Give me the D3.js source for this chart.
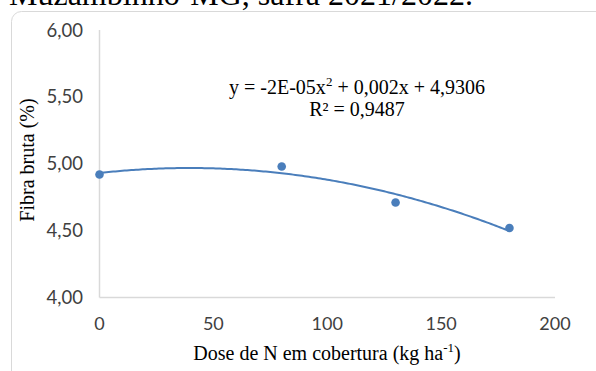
<!DOCTYPE html>
<html><head><meta charset="utf-8">
<script src="https://cdn.jsdelivr.net/npm/d3@7"></script>
<style>html,body{margin:0;padding:0;background:#fff;overflow:hidden}</style>
</head><body>
<script>
const doses = [0, 80, 130, 180];
const fibra = [4.92, 4.98, 4.71, 4.52];
const xTicks = [0, 50, 100, 150, 200];
const yTicks = [4.0, 4.5, 5.0, 5.5, 6.0];
const equationText = "y = -2E-05x";
const equationRest = " + 0,002x + 4,9306";
const r2Text = "R² = 0,9487";
const titleText = "Muzambinho-MG, safra 2021/2022.";
const yTitle = "Fibra bruta (%)";
const xTitle = "Dose de N em cobertura (kg ha";

const W = 596, H = 371;
const svg = d3.select("body").append("svg").attr("width", W).attr("height", H);

// partial caption at top
svg.append("text").attr("x", 9).attr("y", 5)
  .attr("font-family", "Liberation Serif").attr("font-size", 32).attr("fill", "#000")
  .text(titleText);

// chart frame
svg.append("rect").attr("x", 11.5).attr("y", 11.5).attr("width", 600).attr("height", 380)
  .attr("rx", 10).attr("fill", "none").attr("stroke", "#d9d9d9").attr("stroke-width", 1);

const x = d3.scaleLinear().domain([0, 200]).range([99.5, 555]);
const y = d3.scaleLinear().domain([4, 6]).range([297.5, 30]);

// axes lines
svg.append("line").attr("x1", x(0)).attr("x2", x(0)).attr("y1", y(6)).attr("y2", y(4))
  .attr("stroke", "#d9d9d9").attr("stroke-width", 1.5);
svg.append("line").attr("x1", x(0)).attr("x2", x(200)).attr("y1", y(4)).attr("y2", y(4))
  .attr("stroke", "#d9d9d9").attr("stroke-width", 1.5);

const fmt = v => d3.format(".2f")(v).replace(".", ",");
svg.append("g").selectAll("text").data(yTicks).join("text")
  .attr("x", 83).attr("y", d => y(d) + 6.5).attr("text-anchor", "end")
  .attr("font-family", "Lato").attr("font-size", 18.5).attr("fill", "#404040")
  .text(fmt);
svg.append("g").selectAll("text").data(xTicks).join("text")
  .attr("x", d => x(d)).attr("y", 330).attr("text-anchor", "middle")
  .attr("font-family", "Lato").attr("font-size", 18).attr("fill", "#404040")
  .text(d => d);

// axis titles
svg.append("text").attr("transform", "translate(34,160) rotate(-90)")
  .attr("text-anchor", "middle").attr("font-family", "Liberation Serif").attr("font-size", 20)
  .attr("fill", "#000").text(yTitle);
const xt = svg.append("text").attr("x", 327).attr("y", 360).attr("text-anchor", "middle")
  .attr("font-family", "Liberation Serif").attr("font-size", 20).attr("fill", "#000");
xt.append("tspan").text(xTitle);
xt.append("tspan").attr("font-size", 13).attr("dy", -8).text("-1");
xt.append("tspan").attr("dy", 8).text(")");

// least squares quadratic trendline
function fitQuad(xs, ys) {
  let S = Array.from({length: 5}, (_, k) => d3.sum(xs, v => Math.pow(v, k)));
  let T = Array.from({length: 3}, (_, k) => d3.sum(xs.map((v, i) => Math.pow(v, k) * ys[i])));
  const A = [[S[0], S[1], S[2], T[0]], [S[1], S[2], S[3], T[1]], [S[2], S[3], S[4], T[2]]];
  for (let i = 0; i < 3; i++) {
    for (let j = i + 1; j < 3; j++) {
      const f = A[j][i] / A[i][i];
      for (let k = i; k < 4; k++) A[j][k] -= f * A[i][k];
    }
  }
  const c = [0, 0, 0];
  for (let i = 2; i >= 0; i--) {
    let s = A[i][3];
    for (let k = i + 1; k < 3; k++) s -= A[i][k] * c[k];
    c[i] = s / A[i][i];
  }
  return c;
}
const coef = fitQuad(doses, fibra);
const xs = d3.range(0, 180.5, 1);
svg.append("path").datum(xs)
  .attr("d", d3.line().x(d => x(d)).y(d => y(coef[0] + coef[1] * d + coef[2] * d * d)))
  .attr("fill", "none").attr("stroke", "#4a7ebb").attr("stroke-width", 2);

svg.append("g").selectAll("circle").data(doses).join("circle")
  .attr("cx", d => x(d)).attr("cy", (d, i) => y(fibra[i])).attr("r", 4.3)
  .attr("fill", "#4a7ebb");

// equation
const eq = svg.append("text").attr("x", 357).attr("y", 94).attr("text-anchor", "middle")
  .attr("font-family", "Liberation Serif").attr("font-size", 20).attr("fill", "#000");
eq.append("tspan").text(equationText);
eq.append("tspan").attr("font-size", 13).attr("dy", -8).text("2");
eq.append("tspan").attr("dy", 8).text(equationRest);
svg.append("text").attr("x", 357).attr("y", 116).attr("text-anchor", "middle")
  .attr("font-family", "Liberation Serif").attr("font-size", 20).attr("fill", "#000")
  .text(r2Text);
</script>
</body></html>
